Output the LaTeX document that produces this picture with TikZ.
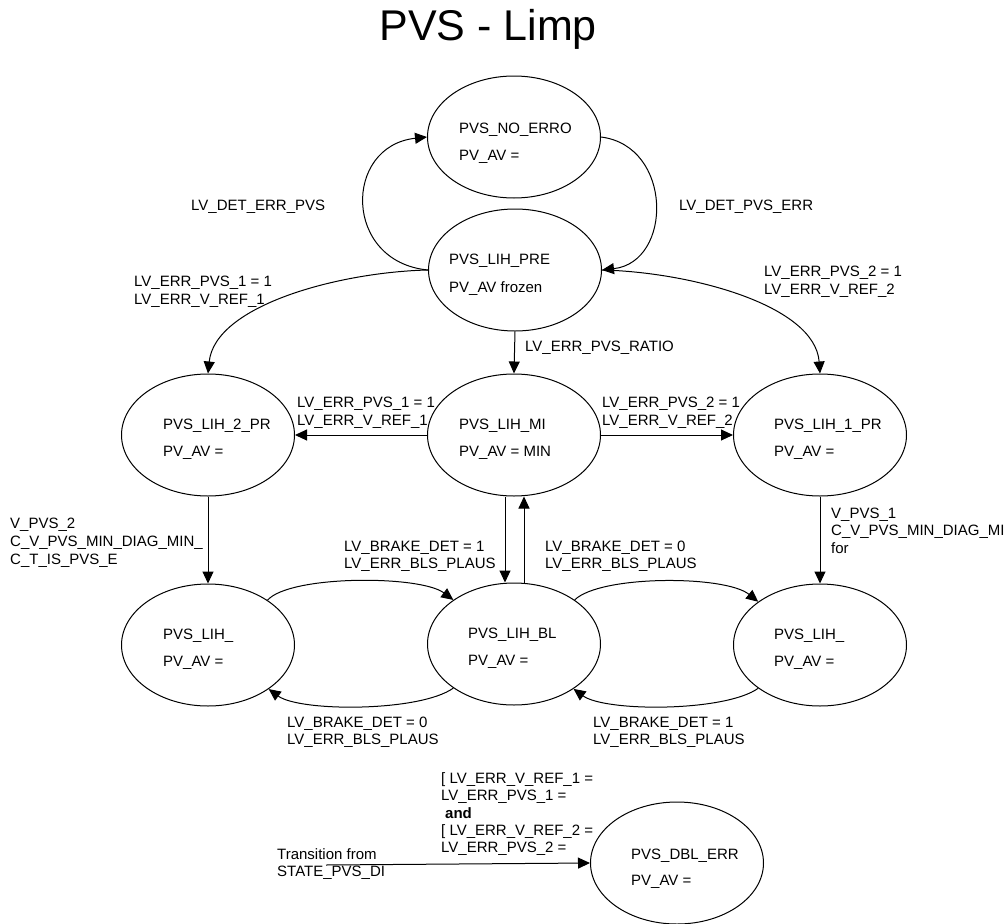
\documentclass[tikz,border=0pt]{standalone}
\usepackage{fontspec}
\setmainfont{Liberation Sans}
\usetikzlibrary{arrows.meta,shapes.geometric}
\begin{document}
\begin{tikzpicture}[x=1pt,y=-1pt,
  state/.style={ellipse,draw,line width=1pt,minimum width=173pt,minimum height=122pt,inner sep=0pt},
  arr/.style={line width=1pt,-{Triangle[length=12pt,width=11pt]}},
  lbl/.style={anchor=north west,inner sep=0pt,align=left,font=\fontsize{15}{18}\selectfont},
  stxt/.style={anchor=base west,inner sep=0pt,font=\fontsize{15}{18}\selectfont}]
\useasboundingbox (0,0) rectangle (1005,924);

% title
\node[anchor=base east,inner sep=0pt,font=\fontsize{43}{50}\selectfont] (title) at (597,40) {PVS - Limp};

% states
\node[state] (e0) at (514,137) {};
\node[state] (e1) at (515,270) {};
\node[state] (e2) at (208,435) {};
\node[state] (e3) at (514,435) {};
\node[state] (e4) at (820,435) {};
\node[state] (e5) at (208,645) {};
\node[state] (e6) at (514,644) {};
\node[state] (e7) at (820,645) {};
\node[state] (e8) at (677,863) {};

% state texts
\node[stxt] (e0a) at (459,133.4) {PVS\_NO\_ERRO};
\node[stxt] (e0b) at (459,160.4) {PV\_AV =};
\node[stxt] (e1a) at (449,264.4) {PVS\_LIH\_PRE};
\node[stxt] (e1b) at (449,292.4) {PV\_AV frozen};
\node[stxt] (e2a) at (163,429.4) {PVS\_LIH\_2\_PR};
\node[stxt] (e2b) at (163,456.4) {PV\_AV =};
\node[stxt] (e3a) at (459,429.4) {PVS\_LIH\_MI};
\node[stxt] (e3b) at (459,456.4) {PV\_AV = MIN};
\node[stxt] (e4a) at (774,429.4) {PVS\_LIH\_1\_PR};
\node[stxt] (e4b) at (774,456.4) {PV\_AV =};
\node[stxt] (e5a) at (163,639.4) {PVS\_LIH\_};
\node[stxt] (e5b) at (163,666.4) {PV\_AV =};
\node[stxt] (e6a) at (468,638.4) {PVS\_LIH\_BL};
\node[stxt] (e6b) at (468,665.4) {PV\_AV =};
\node[stxt] (e7a) at (774,639.4) {PVS\_LIH\_};
\node[stxt] (e7b) at (774,666.4) {PV\_AV =};
\node[stxt] (e8a) at (631,859.4) {PVS\_DBL\_ERR};
\node[stxt] (e8b) at (631,885.4) {PV\_AV =};

% transitions around the top pair
\draw[arr] (e1.west) .. controls (343,262) and (343,146) .. (e0.west);
\draw[arr] (e0.east) .. controls (673,146) and (673,262) .. (e1.east);
\draw[arr] (e1.west) .. controls (340,272) and (215,305) .. (e2.north);
\draw[arr] (e1.east) .. controls (690,272) and (815,305) .. (e4.north);
\draw[arr] (e1.south) -- (e3.north);

% middle row
\draw[arr] (e3.west) -- (e2.east);
\draw[arr] (e3.east) -- (e4.west);
\draw[arr] (e2.south) -- (e5.north);
\draw[arr] (e4.south) -- (e7.north);
\draw[arr] ([xshift=-9pt]e3.south) -- ([xshift=-9pt]e6.north);
\draw[arr] ([xshift=10pt]e6.north) -- ([xshift=10pt]e3.south);

% bottom row
\draw[arr] (e5.37) .. controls (290,575) and (420,575) .. (e6.144);
\draw[arr] (e6.216) .. controls (420,712) and (300,712) .. (e5.324);
\draw[arr] (e6.36) .. controls (600,575) and (725,575) .. (e7.145);
\draw[arr] (e7.215) .. controls (725,712) and (605,712) .. (e6.323);

% entry into the double error state
\coordinate (src) at (326,865);
\draw[arr] (src) -- (e8.west);

% transition labels
\node[lbl] (l1) at (191,199.6) {LV\_DET\_ERR\_PVS};
\node[lbl] (l2) at (679,199.6) {LV\_DET\_PVS\_ERR};
\node[lbl] (l3) at (134,275.6) {LV\_ERR\_PVS\_1 = 1\\LV\_ERR\_V\_REF\_1};
\node[lbl] (l4) at (764,265.6) {LV\_ERR\_PVS\_2 = 1\\LV\_ERR\_V\_REF\_2};
\node[lbl] (l5) at (525,340.6) {LV\_ERR\_PVS\_RATIO};
\node[lbl] (l6) at (297,396.6) {LV\_ERR\_PVS\_1 = 1\\LV\_ERR\_V\_REF\_1};
\node[lbl] (l7) at (602,396.6) {LV\_ERR\_PVS\_2 = 1\\LV\_ERR\_V\_REF\_2};
\node[lbl] (l8) at (10,517.6) {V\_PVS\_2\\C\_V\_PVS\_MIN\_DIAG\_MIN\_\\C\_T\_IS\_PVS\_E};
\node[lbl,font=\fontsize{15}{17.5}\selectfont] (l9) at (831,507.6) {V\_PVS\_1\\C\_V\_PVS\_MIN\_DIAG\_MI\\for};
\node[lbl,font=\fontsize{15}{17}\selectfont] (l10) at (344,540.6) {LV\_BRAKE\_DET = 1\\LV\_ERR\_BLS\_PLAUS};
\node[lbl,font=\fontsize{15}{17}\selectfont] (l11) at (545,540.6) {LV\_BRAKE\_DET = 0\\LV\_ERR\_BLS\_PLAUS};
\node[lbl,font=\fontsize{15}{17}\selectfont] (l12) at (287,716.6) {LV\_BRAKE\_DET = 0\\LV\_ERR\_BLS\_PLAUS};
\node[lbl,font=\fontsize{15}{17}\selectfont] (l13) at (593,716.6) {LV\_BRAKE\_DET = 1\\LV\_ERR\_BLS\_PLAUS};
\node[lbl,font=\fontsize{15}{16.5}\selectfont] (l14) at (277,848.6) {Transition from\\STATE\_PVS\_DI};
\node[lbl,font=\fontsize{15}{17.2}\selectfont] (l15) at (441,772.6)
  {{[} LV\_ERR\_V\_REF\_1 =\\LV\_ERR\_PVS\_1 =\\\hspace{4pt}\textbf{and}\\{[} LV\_ERR\_V\_REF\_2 =\\LV\_ERR\_PVS\_2 =};
\end{tikzpicture}
\end{document}
